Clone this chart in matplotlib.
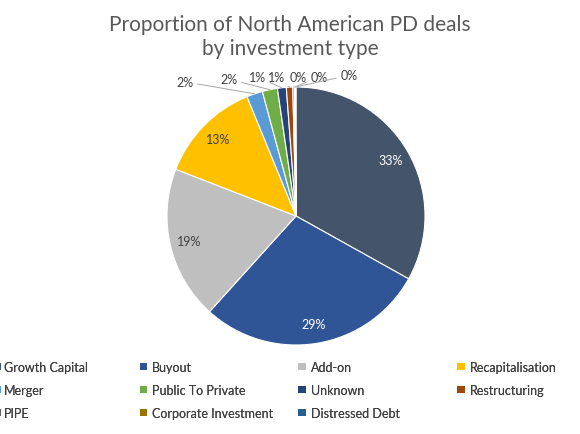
import matplotlib

matplotlib.use("Agg")
import matplotlib.pyplot as plt
from matplotlib.patches import Patch
import numpy as np

plt.rcParams["font.family"] = ["Lato", "DejaVu Sans"]

# Data
types = ["Growth Capital", "Buyout", "Add-on", "Recapitalisation", "Merger",
         "Public To Private", "Unknown", "Restructuring", "PIPE",
         "Corporate Investment", "Distressed Debt"]
shares = [33.1, 28.6, 19.2, 12.9, 2.0, 1.9, 1.1, 0.8, 0.2, 0.1, 0.1]
pct_labels = ["33%", "29%", "19%", "13%", "2%", "2%", "1%", "1%", "0%", "0%", "0%"]
colors = ["#44546A", "#2F5597", "#BFBFBF", "#FFC000", "#5B9BD5", "#70AD47",
          "#264478", "#9E480E", "#636363", "#997300", "#255E91"]

# Where the small slice labels sit (data units, pie radius = 1)
small_pos = [(-0.86, 1.04), (-0.52, 1.06), (-0.30, 1.08), (-0.15, 1.08),
             (0.02, 1.08), (0.18, 1.08), (0.41, 1.09)]

fig = plt.figure(figsize=(5.8, 4.35), dpi=100)
ax = fig.add_axes([0, 0, 1, 1])

wedges, _ = ax.pie(shares, colors=colors, startangle=90, counterclock=False,
                   radius=1.0, wedgeprops=dict(edgecolor="white", linewidth=0.8))

# Labels
for i, w in enumerate(wedges):
    ang = np.deg2rad((w.theta1 + w.theta2) / 2)
    if i < 4:
        r = 0.85
        tc = "white" if i < 2 else "#404040"
        ax.text(r * np.cos(ang), r * np.sin(ang), pct_labels[i], ha="center",
                va="center", fontsize=9, color=tc)
    else:
        edge = (np.cos(ang), np.sin(ang))
        ax.annotate(pct_labels[i], xy=edge, xytext=small_pos[i - 4],
                    ha="center", va="center", fontsize=9, color="#404040",
                    arrowprops=dict(arrowstyle="-", color="#A6A6A6", lw=0.7,
                                    shrinkA=1, shrinkB=0))

# pie centre at (296, 217) px, radius 129 px
ax.set_xlim(-296 / 129, 284 / 129)
ax.set_ylim(-218 / 129, 217 / 129)
ax.set_aspect("equal")
ax.axis("off")

fig.text(0.5, 0.965, "Proportion of North American PD deals\nby investment type",
         ha="center", va="top", fontsize=15, color="#595959", linespacing=1.25)

# Legend: one legend per column so columns are evenly spaced
col_x = [-0.011, 0.241, 0.514, 0.788]
for j in range(4):
    idx = list(range(j, len(types), 4))
    handles = [Patch(facecolor=colors[k], edgecolor="none") for k in idx]
    leg = fig.legend(handles, [types[k] for k in idx], loc="upper left",
                     bbox_to_anchor=(col_x[j], 0.168), frameon=False,
                     fontsize=9, handlelength=0.6, handleheight=0.6,
                     handletextpad=0.25 if j == 0 else 0.4, labelspacing=0.88,
                     borderaxespad=0, borderpad=0, labelcolor="#404040")
    fig.add_artist(leg)

fig.savefig("out.png", dpi=100)
